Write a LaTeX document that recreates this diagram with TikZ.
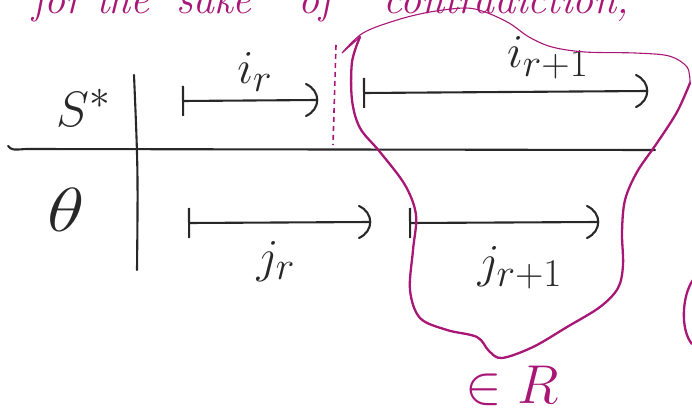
\documentclass[tikz,border=0pt]{standalone}
\usepackage{amsmath}
\usepackage{graphicx}
\usetikzlibrary{arrows.meta}
\definecolor{pen}{RGB}{40,40,40}
\definecolor{ink}{RGB}{168,22,118}
% enlarged math label: factor, formula
\newcommand{\bigmath}[2]{\scalebox{#1}{$#2$}}
\tikzset{
  axis/.style={draw=pen, line width=2.1pt, line cap=round},
  interval/.style={draw=pen, line width=2.1pt, line cap=round,
    {Bar[width=30pt,line width=2.1pt]}-},
  rparen/.pic={\draw[pen, line width=2.1pt, line cap=round]
    (-11,-16) .. controls (4,-9) and (4,9) .. (-11,16);},
  lbl/.style={text=pen, inner sep=0pt, font=\Huge},
  note/.style={text=ink, inner sep=0pt, anchor=base west, font=\fontsize{42}{42}\selectfont\itshape},
  region/.style={draw=ink, line width=2.3pt, line join=round, line cap=round},
  thinregion/.style={draw=ink, line width=1.1pt, line cap=round},
  cut/.style={draw=ink, line width=1.6pt, dash pattern=on 5pt off 4pt}
}
\begin{document}
\begin{tikzpicture}[x=1pt,y=-1pt]
  \useasboundingbox (0,0) rectangle (692,412);
  \clip (0,0) rectangle (692,412);

  % heading, running off the top edge
  \node[note] (w1) at (32,14) {for};
  \node[note] (w2) at (96,14) {the};
  \node[note] (w3) at (176,14) {sake};
  \node[note] (w4) at (298,14) {of};
  \node[note] (w5) at (383,14) {contradiction,};

  % table axes
  \coordinate (hL) at (8,146);
  \coordinate (hR) at (655,150);
  \coordinate (vT) at (134,75);
  \coordinate (vB) at (137,270);
  \draw[axis] (hL) .. controls (12,150) .. (26,149) -- (hR);
  \draw[axis] (vT) .. controls (138,170) .. (vB);

  % row labels
  \node[lbl] (S) at (84,108) {\bigmath{2.0}{S^{*}}};
  \node[lbl] (O) at (66,210) {\scalebox{3.1}[2.5]{$\theta$}};

  % intervals of S*
  \coordinate (ira) at (182,101);
  \coordinate (irb) at (317,100);
  \coordinate (iqa) at (363,93);
  \coordinate (iqb) at (647,91);
  \draw[interval] (ira) -- (irb);
  \draw[interval] (iqa) -- (iqb);
  \pic at (irb) {rparen};
  \pic at (iqb) {rparen};
  \node[lbl] (ir) at (255,72) {\bigmath{1.9}{i_r}};
  \node[lbl] (iq) at (548,58) {\bigmath{1.9}{i_{r+1}}};

  % intervals of theta
  \coordinate (jra) at (188,223);
  \coordinate (jrb) at (370,222);
  \coordinate (jqa) at (409,223);
  \coordinate (jqb) at (598,222);
  \draw[interval] (jra) -- (jrb);
  \draw[interval] (jqa) -- (jqb);
  \pic at (jrb) {rparen};
  \pic at (jqb) {rparen};
  \node[lbl] (jr) at (276,262) {\bigmath{1.9}{j_r}};
  \node[lbl] (jq) at (520,268) {\bigmath{1.9}{j_{r+1}}};

  % dashed cut between i_r and i_{r+1}
  \coordinate (cT) at (336,45);
  \coordinate (cB) at (333,145);
  \draw[cut] (cT) -- (cB);

  % region around i_{r+1} and j_{r+1}
  \draw[region] plot[smooth, tension=0.55] coordinates {
    (360,37) (352,62) (352,100) (360,128) (380,152) (405,185) (416,215)
    (413,250) (410,290) (420,318) (447,330) (477,337) (489,351) (502,358)
    (533,347) (567,327) (600,307) (618,288) (623,265) (622,232) (625,200)
    (637,172) (657,143) (677,112) (690,83)};
  \draw[thinregion] plot[smooth, tension=0.55] coordinates {
    (690,83) (687,67) (669,56) (635,53) (585,52) (552,47) (529,37)
    (509,23) (485,12) (465,8) (430,12) (397,20) (363,33) (342,53)}
    -- (360,37);
  \node[lbl, text=ink] (ER) at (512,386) {\bigmath{2.2}{\in R}};

  % next stroke starting at the right edge
  \draw[region] (693,280) .. controls (682,295) and (680,330) .. (692,344);
\end{tikzpicture}
\end{document}
